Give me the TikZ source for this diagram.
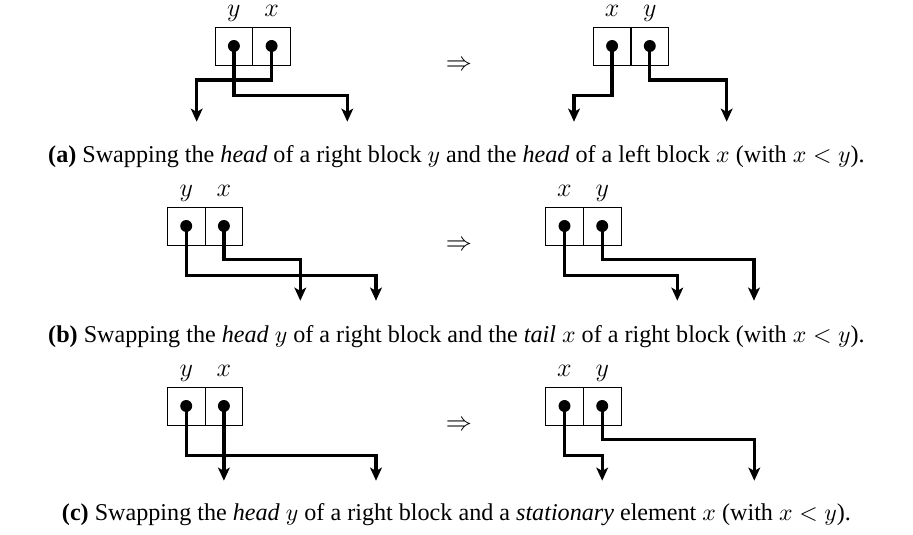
\documentclass[tikz,border=0pt]{standalone}
\usepackage{fontspec}
\setmainfont{Liberation Serif}
\usetikzlibrary{arrows.meta}
\begin{document}
\begin{tikzpicture}[x=0.46pt,y=-0.46pt,
 cell/.style={draw, line width=0.4pt, minimum width=17.3pt, minimum height=17.5pt, inner sep=0pt, outer sep=0pt},
 dotnode/.style={circle, fill, inner sep=0pt, minimum size=5.5pt},
 wire/.style={line width=1.5pt, -{Stealth[length=6pt,width=5.4pt,inset=1.5pt]}},
 lab/.style={font=\fontsize{12}{14}\selectfont, anchor=base, inner sep=0pt},
 captext/.style={font=\fontsize{11.1}{13}\selectfont, anchor=base, inner sep=0pt},
 impl/.style={font=\fontsize{12}{14}\selectfont, inner sep=0pt}]
\useasboundingbox (0,0) rectangle (913,535);

% ---------- panel (a) ----------
\node[cell] (aLc1) at (233.9,46) {};
\node[cell] (aLc2) at (271.6,46) {};
\node[dotnode] (aLy) at (aLc1.center) {};
\node[dotnode] (aLx) at (aLc2.center) {};
\node[lab] (aLly) at (233.9,17) {$y$};
\node[lab] (aLlx) at (271.6,17) {$x$};
\coordinate (aLe1) at (196.7,121.7);
\coordinate (aLe2) at (347.3,121.7);
\draw[wire] (aLx.center) -- ++(0,34) -| (aLe1);
\draw[wire] (aLy.center) -- ++(0,49.7) -| (aLe2);

\node[impl] (aimp) at (459,66) {$\Rightarrow$};

\node[cell] (aRc1) at (612.1,46) {};
\node[cell] (aRc2) at (649.8,46) {};
\node[dotnode] (aRx) at (aRc1.center) {};
\node[dotnode] (aRy) at (aRc2.center) {};
\node[lab] (aRlx) at (612.1,17) {$x$};
\node[lab] (aRly) at (649.8,17) {$y$};
\coordinate (aRe1) at (574,121.7);
\coordinate (aRe2) at (726.7,121.7);
\draw[wire] (aRx.center) -- ++(0,49.7) -| (aRe1);
\draw[wire] (aRy.center) -- ++(0,34) -| (aRe2);

\node[captext] (capa) at (456.5,163) {\textbf{(a)} Swapping the \textit{head} of a right block $y$ and the \textit{head} of a left block $x$ (with $x<y$).};

% ---------- panel (b) ----------
\node[cell] (bLc1) at (186.2,226) {};
\node[cell] (bLc2) at (223.9,226) {};
\node[dotnode] (bLy) at (bLc1.center) {};
\node[dotnode] (bLx) at (bLc2.center) {};
\node[lab] (bLly) at (186.2,196.8) {$y$};
\node[lab] (bLlx) at (223.9,196.8) {$x$};
\coordinate (bLe1) at (300.3,300.7);
\coordinate (bLe2) at (376,300.7);
\draw[wire] (bLx.center) -- ++(0,33.3) -| (bLe1);
\draw[wire] (bLy.center) -- ++(0,49.3) -| (bLe2);

\node[impl] (bimp) at (459,246) {$\Rightarrow$};

\node[cell] (bRc1) at (564.5,226) {};
\node[cell] (bRc2) at (602.2,226) {};
\node[dotnode] (bRx) at (bRc1.center) {};
\node[dotnode] (bRy) at (bRc2.center) {};
\node[lab] (bRlx) at (564.5,196.8) {$x$};
\node[lab] (bRly) at (602.2,196.8) {$y$};
\coordinate (bRe1) at (677.3,300.7);
\coordinate (bRe2) at (754,300.7);
\draw[wire] (bRx.center) -- ++(0,49.3) -| (bRe1);
\draw[wire] (bRy.center) -- ++(0,33.3) -| (bRe2);

\node[captext] (capb) at (456.5,342.7) {\textbf{(b)} Swapping the \textit{head} $y$ of a right block and the \textit{tail} $x$ of a right block (with $x<y$).};

% ---------- panel (c) ----------
\node[cell] (cLc1) at (186.2,406) {};
\node[cell] (cLc2) at (223.9,406) {};
\node[dotnode] (cLy) at (cLc1.center) {};
\node[dotnode] (cLx) at (cLc2.center) {};
\node[lab] (cLly) at (186.2,376.8) {$y$};
\node[lab] (cLlx) at (223.9,376.8) {$x$};
\coordinate (cLe1) at (223.9,480.7);
\coordinate (cLe2) at (376,480.7);
\draw[wire] (cLx.center) -- (cLe1);
\draw[wire] (cLy.center) -- ++(0,49.7) -| (cLe2);

\node[impl] (cimp) at (459,426) {$\Rightarrow$};

\node[cell] (cRc1) at (564.5,406) {};
\node[cell] (cRc2) at (602.2,406) {};
\node[dotnode] (cRx) at (cRc1.center) {};
\node[dotnode] (cRy) at (cRc2.center) {};
\node[lab] (cRlx) at (564.5,376.8) {$x$};
\node[lab] (cRly) at (602.2,376.8) {$y$};
\coordinate (cRe1) at (602.2,480.7);
\coordinate (cRe2) at (754.3,480.7);
\draw[wire] (cRx.center) -- ++(0,49.7) -| (cRe1);
\draw[wire] (cRy.center) -- ++(0,33.3) -| (cRe2);

\node[captext] (capc) at (456.5,520.7) {\textbf{(c)} Swapping the \textit{head} $y$ of a right block and a \textit{stationary} element $x$ (with $x<y$).};
\end{tikzpicture}
\end{document}
